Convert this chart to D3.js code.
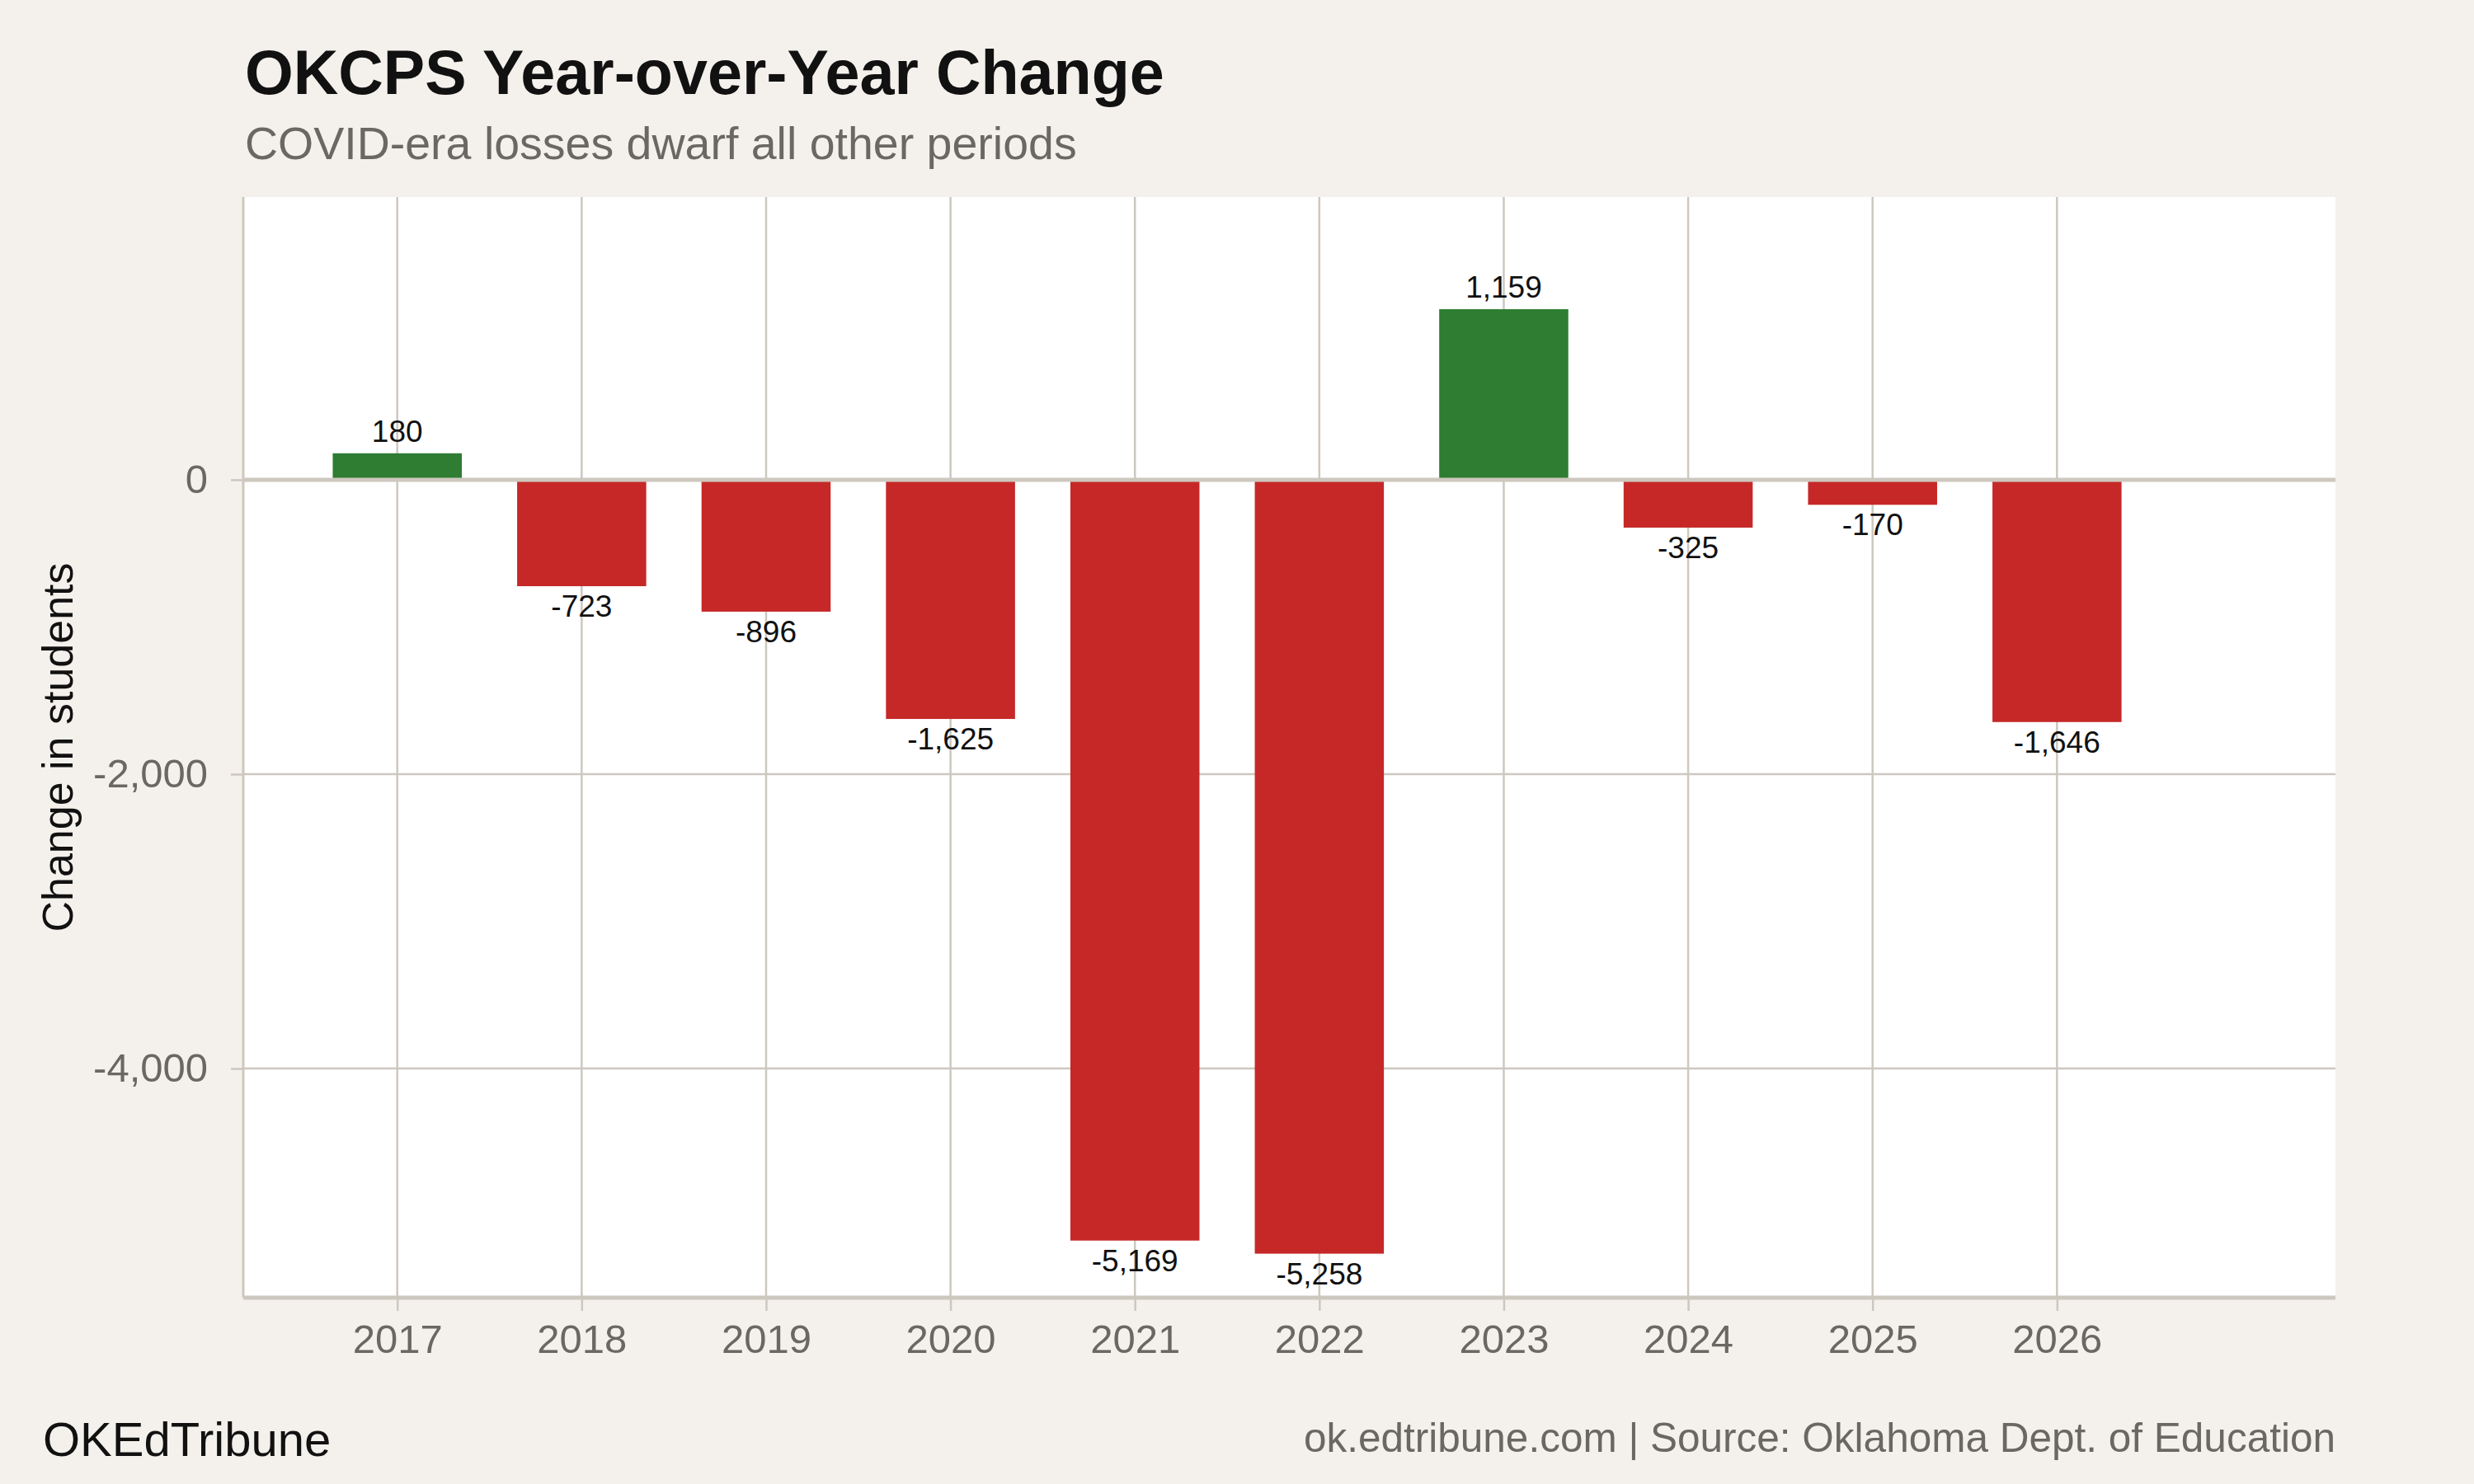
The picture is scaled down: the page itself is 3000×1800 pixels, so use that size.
<!DOCTYPE html>
<html>
<head>
<meta charset="utf-8">
<script src="https://cdn.jsdelivr.net/npm/d3@7"></script>
<style>
  html, body { margin: 0; padding: 0; background: #f4f1ec; }
  svg { display: block; font-family: "Liberation Sans", Arial, sans-serif; }
</style>
</head>
<body>
<svg id="chart"></svg>
<script>
// data
const years = [2017, 2018, 2019, 2020, 2021, 2022, 2023, 2024, 2025, 2026];
const changes = [180, -723, -896, -1625, -5169, -5258, 1159, -325, -170, -1646];
const yTicks = [0, -2000, -4000];

const title = "OKCPS Year-over-Year Change";
const subtitle = "COVID-era losses dwarf all other periods";
const yTitle = "Change in students";
const brand = "OKEdTribune";
const source = "ok.edtribune.com | Source: Oklahoma Dept. of Education";

const width = 3000;
const height = 1800;
const margin = { top: 239, right: 168, bottom: 226, left: 295 };

const bg = "#f4f1ec";
const gridColor = "#cdc8bf";
const greyText = "#6b6862";
const up = "#2e7d32";
const down = "#c62828";

const fmt = d3.formatLocale({ decimal: ".", thousands: ",", grouping: [3], currency: ["$", ""], minus: "-" }).format(",");

const svg = d3.select("#chart")
  .attr("width", width)
  .attr("height", height);

svg.append("rect").attr("width", width).attr("height", height).attr("fill", bg);

const x = d3.scaleLinear()
  .domain([2016.165, 2027.51])
  .range([margin.left, width - margin.right]);

const y = d3.scaleLinear()
  .domain([-5557, 1921])
  .range([height - margin.bottom, margin.top]);

const step = x(years[1]) - x(years[0]);
const barW = step * 0.7;

// panel
svg.append("rect")
  .attr("x", margin.left)
  .attr("y", margin.top)
  .attr("width", width - margin.left - margin.right)
  .attr("height", height - margin.top - margin.bottom)
  .attr("fill", "#ffffff");

// vertical grid + x ticks
const xAxis = svg.append("g")
  .attr("transform", `translate(0,${height - margin.bottom})`)
  .call(d3.axisBottom(x)
    .tickValues(years)
    .tickFormat(d => String(d))
    .tickSize(16)
    .tickSizeOuter(0)
    .tickPadding(16));
xAxis.select(".domain").remove();
xAxis.selectAll(".tick line").attr("stroke", gridColor).attr("stroke-width", 2.5);
xAxis.selectAll(".tick text")
  .attr("fill", greyText)
  .attr("font-size", 49)
  .attr("font-family", "Liberation Sans, Arial, sans-serif");

svg.append("g")
  .selectAll("line")
  .data(years)
  .join("line")
  .attr("x1", d => x(d))
  .attr("x2", d => x(d))
  .attr("y1", margin.top)
  .attr("y2", height - margin.bottom)
  .attr("stroke", gridColor)
  .attr("stroke-width", 2.5);

// horizontal grid + y ticks
const yAxis = svg.append("g")
  .attr("transform", `translate(${margin.left},0)`)
  .call(d3.axisLeft(y)
    .tickValues(yTicks)
    .tickFormat(fmt)
    .tickSize(15)
    .tickSizeOuter(0)
    .tickPadding(28));
yAxis.select(".domain").remove();
yAxis.selectAll(".tick line").attr("stroke", gridColor).attr("stroke-width", 2.5);
yAxis.selectAll(".tick text")
  .attr("fill", greyText)
  .attr("font-size", 49)
  .attr("font-family", "Liberation Sans, Arial, sans-serif");

svg.append("g")
  .selectAll("line")
  .data(yTicks.filter(d => d !== 0))
  .join("line")
  .attr("x1", margin.left)
  .attr("x2", width - margin.right)
  .attr("y1", d => y(d))
  .attr("y2", d => y(d))
  .attr("stroke", gridColor)
  .attr("stroke-width", 2.5);

// bars
svg.append("g")
  .selectAll("rect")
  .data(years)
  .join("rect")
  .attr("x", d => x(d) - barW / 2)
  .attr("width", barW)
  .attr("y", (d, i) => y(Math.max(0, changes[i])))
  .attr("height", (d, i) => Math.abs(y(changes[i]) - y(0)))
  .attr("fill", (d, i) => changes[i] >= 0 ? up : down);

// zero line
svg.append("line")
  .attr("x1", margin.left)
  .attr("x2", width - margin.right)
  .attr("y1", y(0))
  .attr("y2", y(0))
  .attr("stroke", gridColor)
  .attr("stroke-width", 5);

// axis lines
svg.append("line")
  .attr("x1", margin.left)
  .attr("x2", margin.left)
  .attr("y1", margin.top)
  .attr("y2", height - margin.bottom)
  .attr("stroke", gridColor)
  .attr("stroke-width", 3);

svg.append("line")
  .attr("x1", margin.left)
  .attr("x2", width - margin.right)
  .attr("y1", height - margin.bottom)
  .attr("y2", height - margin.bottom)
  .attr("stroke", gridColor)
  .attr("stroke-width", 5);

// value labels
svg.append("g")
  .selectAll("text")
  .data(years)
  .join("text")
  .attr("x", d => x(d))
  .attr("y", (d, i) => changes[i] >= 0 ? y(changes[i]) - 14 : y(changes[i]) + 37)
  .attr("text-anchor", "middle")
  .attr("font-size", 37)
  .attr("fill", "#111")
  .text((d, i) => fmt(changes[i]));

// titles
svg.append("text")
  .attr("x", 297)
  .attr("y", 114)
  .attr("font-size", 75.5)
  .attr("font-weight", "bold")
  .attr("fill", "#111")
  .text(title);

svg.append("text")
  .attr("x", 297)
  .attr("y", 193)
  .attr("font-size", 55.5)
  .attr("fill", greyText)
  .text(subtitle);

svg.append("text")
  .attr("transform", `translate(88,${(margin.top + height - margin.bottom) / 2}) rotate(-90)`)
  .attr("text-anchor", "middle")
  .attr("font-size", 52)
  .attr("fill", "#111")
  .text(yTitle);

// footer
svg.append("text")
  .attr("x", 52)
  .attr("y", 1766)
  .attr("font-size", 58)
  .attr("fill", "#111")
  .text(brand);

svg.append("text")
  .attr("x", width - margin.right)
  .attr("y", 1761)
  .attr("text-anchor", "end")
  .attr("font-size", 49.5)
  .attr("fill", greyText)
  .text(source);
</script>
</body>
</html>
